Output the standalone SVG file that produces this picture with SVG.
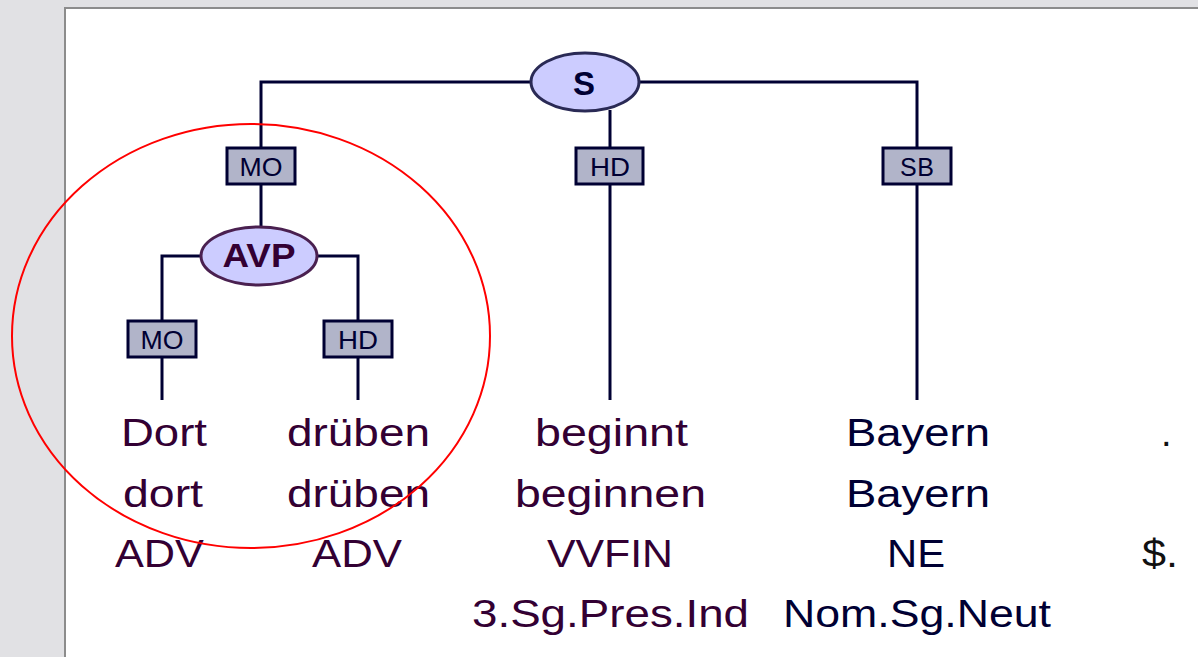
<svg xmlns="http://www.w3.org/2000/svg" width="1198" height="657" viewBox="0 0 1198 657">
<style>
.bg{fill:#e1e1e4}
.panel{fill:#ffffff;stroke:#8c8c8c;stroke-width:2}
.edge{stroke:#000033;stroke-width:3;fill:none}
.lbl rect{fill:#b1b4c9;stroke:#000033;stroke-width:3}
.lbl text{font-family:"Liberation Sans",Arial,sans-serif;font-size:25px;fill:#000033;text-anchor:middle}
.cat{font-family:"Liberation Sans",Arial,sans-serif;font-weight:bold;text-anchor:middle}
.w{font-family:"Liberation Sans",Arial,sans-serif;font-size:38px}
.p{fill:#330033}
.n{fill:#000033}
.k{fill:#111111}
</style>
<rect class="bg" x="0" y="0" width="1198" height="657"/>
<rect class="panel" x="65" y="8" width="1140" height="660"/>
<g id="connectors">
  <polyline class="edge" points="261,147 261,82 917,82 917,147"/>
  <line class="edge" x1="261" y1="184" x2="261" y2="228"/>
  <line class="edge" x1="610" y1="110" x2="610" y2="147"/>
  <line class="edge" x1="610" y1="184" x2="610" y2="400"/>
  <line class="edge" x1="917" y1="184" x2="917" y2="400"/>
  <polyline class="edge" points="162,320 162,256 358,256 358,320"/>
  <line class="edge" x1="162" y1="357" x2="162" y2="400"/>
  <line class="edge" x1="358" y1="357" x2="358" y2="400"/>
  <g class="lbl" id="lbl-s-mo"><rect x="227" y="148" width="68" height="36"/><text x="261" y="176" textLength="43" lengthAdjust="spacingAndGlyphs">MO</text></g>
  <g class="lbl" id="lbl-s-hd"><rect x="576" y="148" width="67" height="36"/><text x="610" y="176" textLength="40" lengthAdjust="spacingAndGlyphs">HD</text></g>
  <g class="lbl" id="lbl-s-sb"><rect x="883" y="148" width="68" height="36"/><text x="917" y="176" textLength="34" lengthAdjust="spacing">SB</text></g>
  <g class="lbl" id="lbl-avp-mo"><rect x="128" y="321" width="68" height="36"/><text x="162" y="349" textLength="43" lengthAdjust="spacingAndGlyphs">MO</text></g>
  <g class="lbl" id="lbl-avp-hd"><rect x="324" y="321" width="68" height="36"/><text x="358" y="349" textLength="40" lengthAdjust="spacingAndGlyphs">HD</text></g>
</g>
<g id="node-S">
  <ellipse cx="585" cy="82" rx="54" ry="29" fill="#ccccff" stroke="#2a2a55" stroke-width="3"/>
  <text class="cat" x="584" y="95" font-size="33" fill="#000033">S</text>
</g>
<g id="node-AVP">
  <ellipse cx="259" cy="256" rx="58" ry="29" fill="#ccccff" stroke="#4a2050" stroke-width="3"/>
  <text class="cat" x="259" y="267" font-size="33" fill="#330033" textLength="73" lengthAdjust="spacingAndGlyphs">AVP</text>
</g>
<g id="token-Dort">
  <text class="w p" x="121" y="446" textLength="86" lengthAdjust="spacingAndGlyphs">Dort</text>
  <text class="w p" x="123" y="507" textLength="80" lengthAdjust="spacingAndGlyphs">dort</text>
  <text class="w p" x="115" y="567" textLength="89" lengthAdjust="spacingAndGlyphs">ADV</text>
</g>
<g id="token-drueben">
  <text class="w p" x="287" y="446" textLength="143" lengthAdjust="spacingAndGlyphs">drüben</text>
  <text class="w p" x="287" y="507" textLength="143" lengthAdjust="spacingAndGlyphs">drüben</text>
  <text class="w p" x="312" y="567" textLength="90" lengthAdjust="spacingAndGlyphs">ADV</text>
</g>
<g id="token-beginnt">
  <text class="w p" x="535" y="446" textLength="153" lengthAdjust="spacingAndGlyphs">beginnt</text>
  <text class="w p" x="515" y="507" textLength="191" lengthAdjust="spacingAndGlyphs">beginnen</text>
  <text class="w p" x="547" y="567" textLength="126" lengthAdjust="spacingAndGlyphs">VVFIN</text>
  <text class="w p" x="472" y="627" textLength="277" lengthAdjust="spacingAndGlyphs">3.Sg.Pres.Ind</text>
</g>
<g id="token-Bayern">
  <text class="w n" x="846" y="446" textLength="144" lengthAdjust="spacingAndGlyphs">Bayern</text>
  <text class="w n" x="846" y="507" textLength="144" lengthAdjust="spacingAndGlyphs">Bayern</text>
  <text class="w n" x="887" y="567" textLength="58" lengthAdjust="spacingAndGlyphs">NE</text>
  <text class="w n" x="783" y="627" textLength="268" lengthAdjust="spacingAndGlyphs">Nom.Sg.Neut</text>
</g>
<g id="token-period">
  <text class="w k" x="1161" y="446">.</text>
  <text class="w k" x="1142" y="567" textLength="36" lengthAdjust="spacingAndGlyphs">$.</text>
</g>
<ellipse id="highlight" cx="251" cy="336" rx="239" ry="212" fill="none" stroke="#ff0000" stroke-width="2"/>
</svg>
